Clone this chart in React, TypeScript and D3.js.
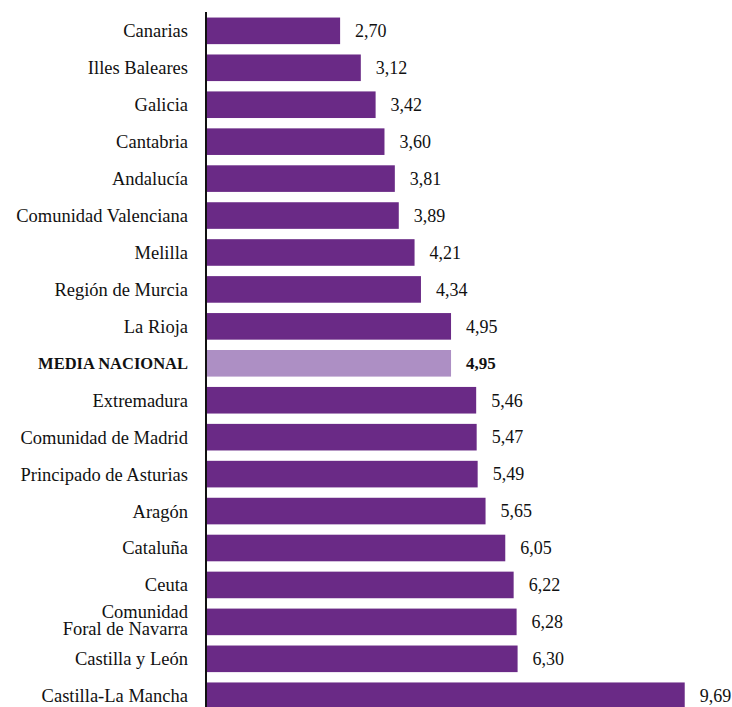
import React from "react";
import * as d3 from "d3";

const categories: string[] = [
  "Canarias",
  "Illes Baleares",
  "Galicia",
  "Cantabria",
  "Andalucía",
  "Comunidad Valenciana",
  "Melilla",
  "Región de Murcia",
  "La Rioja",
  "MEDIA NACIONAL",
  "Extremadura",
  "Comunidad de Madrid",
  "Principado de Asturias",
  "Aragón",
  "Cataluña",
  "Ceuta",
  "Comunidad\nForal de Navarra",
  "Castilla y León",
  "Castilla-La Mancha",
];

const values: number[] = [
  2.7, 3.12, 3.42, 3.6, 3.81, 3.89, 4.21, 4.34, 4.95, 4.95, 5.46, 5.47, 5.49, 5.65, 6.05, 6.22, 6.28, 6.3, 9.69,
];

const valueLabels: string[] = [
  "2,70", "3,12", "3,42", "3,60", "3,81", "3,89", "4,21", "4,34", "4,95", "4,95",
  "5,46", "5,47", "5,49", "5,65", "6,05", "6,22", "6,28", "6,30", "9,69",
];

const highlight = "MEDIA NACIONAL";

const W = 732;
const H = 707;
const DARK = "#6a2a86";
const LIGHT = "#ad8fc4";
const FONT = "Liberation Serif, DejaVu Serif, serif";

export default function App() {
  const x = d3.scaleLinear().domain([0, 10]).range([207, 700]);
  const y = d3
    .scaleBand<string>()
    .domain(categories)
    .range([7.2, 719.4])
    .padding(0.28);

  return (
    <svg
      width={W}
      height={H}
      style={{ position: "absolute", top: 0, left: 0, overflow: "hidden", background: "#fff" }}
    >
      {categories.map((c, i) => {
        const y0 = y(c)!;
        const bw = y.bandwidth();
        const cy = y0 + bw / 2;
        const isHi = c === highlight;
        const lines = c.split("\n");
        return (
          <g key={c}>
            <rect x={x(0)} y={y0} width={x(values[i]) - x(0)} height={bw} fill={isHi ? LIGHT : DARK} />
            <text
              x={188}
              y={cy}
              textAnchor="end"
              style={{ fontFamily: FONT }}
              fontSize={isHi ? 16.5 : 18.5}
              fontWeight={isHi ? "bold" : "normal"}
              fill="#111"
            >
              {lines.length === 1 ? (
                <tspan x={188} dy="0.35em">{c}</tspan>
              ) : (
                lines.map((l, k) => (
                  <tspan key={k} x={188} dy={k === 0 ? "-0.2em" : "0.92em"}>
                    {l}
                  </tspan>
                ))
              )}
            </text>
            <text
              x={x(values[i]) + 15}
              y={cy}
              dy="0.35em"
              style={{ fontFamily: FONT }}
              fontSize={isHi ? 17 : 18}
              fontWeight={isHi ? "bold" : "normal"}
              fill="#111"
            >
              {valueLabels[i]}
            </text>
          </g>
        );
      })}
      <line x1={206} x2={206} y1={12} y2={H} stroke="#111" strokeWidth={2} />
    </svg>
  );
}
